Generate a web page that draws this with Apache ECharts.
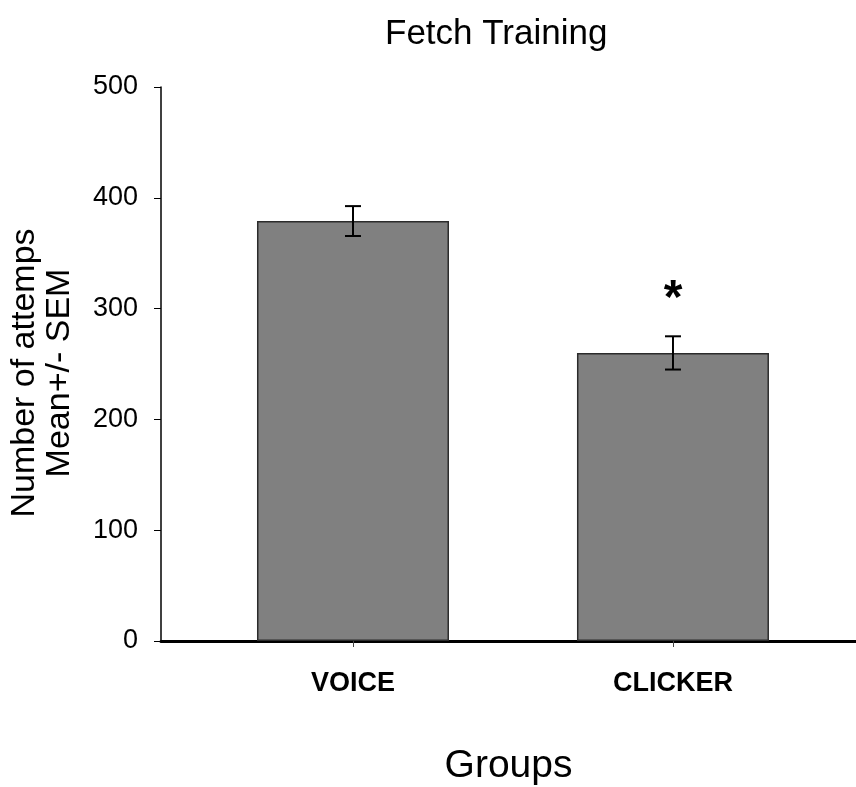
<!DOCTYPE html>
<html>
<head>
<meta charset="utf-8">
<script src="https://cdn.jsdelivr.net/npm/echarts@6/dist/echarts.min.js"></script>
<style>
html,body{margin:0;padding:0;background:#fff;}
#chart{width:856px;height:787px;}
</style>
</head>
<body>
<div id="chart"></div>
<script>
// data
var groups = ['VOICE', 'CLICKER'];
var groupPos = [1, 2];
var means = [379, 260];
var sems = [13.5, 15];
var marks = ['', '*'];
var yTicks = [0, 100, 200, 300, 400, 500];

function showFetchChart(eid) {
    var contener = document.getElementById(eid);
    var myChart = echarts.init(contener, null, {width: 856, height: 787});

    var barData = [];
    var errData = [];
    for (var i = 0; i < groups.length; i++) {
        barData.push([groupPos[i], means[i]]);
        errData.push([groupPos[i], means[i], sems[i], i]);
    }

    var option = {
        backgroundColor: '#fff',
        animation: false,
        title: {
            text: 'Fetch Training',
            left: 380,
            top: 12,
            textStyle: {
                fontFamily: 'Liberation Sans',
                fontSize: 35,
                fontWeight: 'normal',
                color: '#000'
            }
        },
        grid: {
            left: 161,
            right: 0,
            top: 87,
            bottom: 146,
            outerBoundsMode: 'none'
        },
        xAxis: {
            type: 'value',
            min: 0.4,
            max: 2.572,
            name: 'Groups',
            nameLocation: 'middle',
            nameGap: 106,
            nameTextStyle: {
                fontFamily: 'Liberation Sans',
                fontSize: 39,
                color: '#000'
            },
            axisLine: {show: true, lineStyle: {color: '#000', width: 3}},
            axisTick: {
                show: true,
                customValues: groupPos,
                length: 6,
                lineStyle: {color: '#444', width: 1}
            },
            axisLabel: {
                customValues: groupPos,
                margin: 29,
                fontFamily: 'Liberation Sans',
                fontSize: 27,
                fontWeight: 'bold',
                color: '#000',
                formatter: function (v) {
                    return groups[groupPos.indexOf(v)] || '';
                }
            },
            splitLine: {show: false}
        },
        yAxis: {
            type: 'value',
            min: yTicks[0],
            max: yTicks[yTicks.length - 1],
            interval: 100,
            name: 'Number of attemps\nMean+/- SEM',
            nameLocation: 'middle',
            nameGap: 84,
            nameTextStyle: {
                fontFamily: 'Liberation Sans',
                fontSize: 34,
                lineHeight: 35,
                color: '#000',
                padding: [0, 18, 0, 0]
            },
            axisLine: {show: true, lineStyle: {color: '#000', width: 1.5}},
            axisTick: {show: true, inside: false, length: 7, lineStyle: {color: '#000', width: 1}},
            axisLabel: {
                margin: 23,
                fontFamily: 'Liberation Sans',
                fontSize: 27,
                color: '#000'
            },
            splitLine: {show: false}
        },
        series: [
            {
                type: 'bar',
                data: barData,
                barWidth: 192,
                itemStyle: {
                    color: '#808080',
                    borderColor: '#2b2b2b',
                    borderWidth: 1.5
                },
                z: 2
            },
            {
                type: 'custom',
                data: errData,
                z: 3,
                renderItem: function (params, api) {
                    var x = api.value(0);
                    var m = api.value(1);
                    var s = api.value(2);
                    var idx = api.value(3);
                    var hi = api.coord([x, m + s]);
                    var lo = api.coord([x, m - s]);
                    var w = 8;
                    var style = {stroke: '#000', lineWidth: 2};
                    var kids = [
                        {type: 'line', shape: {x1: hi[0], y1: hi[1], x2: lo[0], y2: lo[1]}, style: style},
                        {type: 'line', shape: {x1: hi[0] - w, y1: hi[1], x2: hi[0] + w, y2: hi[1]}, style: style},
                        {type: 'line', shape: {x1: lo[0] - w, y1: lo[1], x2: lo[0] + w, y2: lo[1]}, style: style}
                    ];
                    if (marks[idx]) {
                        kids.push({
                            type: 'text',
                            style: {
                                text: marks[idx],
                                x: hi[0],
                                y: hi[1] - 61,
                                align: 'center',
                                verticalAlign: 'top',
                                font: 'bold 48px "Liberation Sans"',
                                fill: '#000'
                            }
                        });
                    }
                    return {type: 'group', children: kids};
                }
            }
        ]
    };
    myChart.setOption(option);
}

showFetchChart('chart');
</script>
</body>
</html>
